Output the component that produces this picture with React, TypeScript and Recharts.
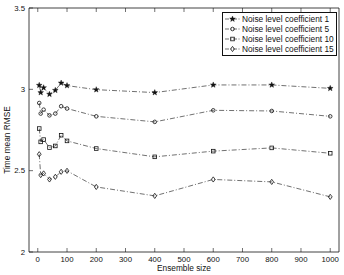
import { LineChart, Line, XAxis, YAxis, Legend, Label } from "recharts";

const ensembleSizes = [5, 10, 20, 40, 60, 80, 100, 200, 400, 600, 800, 1000];
const coef1 = [3.025, 2.98, 3.01, 2.97, 2.994, 3.039, 3.023, 2.998, 2.98, 3.027, 3.027, 3.006];
const coef5 = [2.916, 2.851, 2.875, 2.84, 2.851, 2.896, 2.882, 2.834, 2.8, 2.871, 2.867, 2.834];
const coef10 = [2.759, 2.677, 2.691, 2.642, 2.652, 2.718, 2.683, 2.636, 2.585, 2.62, 2.64, 2.607];
const coef15 = [2.601, 2.473, 2.483, 2.446, 2.462, 2.493, 2.499, 2.4, 2.345, 2.446, 2.431, 2.339];

const xTicks = [0, 100, 200, 300, 400, 500, 600, 700, 800, 900, 1000];
const yTicks = [2, 2.5, 3, 3.5];

const data = ensembleSizes.map((n, i) => ({
  n,
  c1: coef1[i],
  c5: coef5[i],
  c10: coef10[i],
  c15: coef15[i],
}));

const FONT = "'Liberation Sans', Arial, sans-serif";
const INK = "#111";
const DASH = "5 2 1 2";

type MarkerKind = "star" | "circle" | "square" | "diamond";

const series: { key: string; name: string; marker: MarkerKind }[] = [
  { key: "c1", name: "Noise level coefficient 1", marker: "star" },
  { key: "c5", name: "Noise level coefficient 5", marker: "circle" },
  { key: "c10", name: "Noise level coefficient 10", marker: "square" },
  { key: "c15", name: "Noise level coefficient 15", marker: "diamond" },
];

function starPath(cx: number, cy: number, r: number) {
  const pts: string[] = [];
  for (let i = 0; i < 10; i++) {
    const a = -Math.PI / 2 + (i * Math.PI) / 5;
    const rr = i % 2 === 0 ? r : r * 0.42;
    pts.push(`${cx + rr * Math.cos(a)},${cy + rr * Math.sin(a)}`);
  }
  return "M" + pts.join("L") + "Z";
}

function Marker({ kind, cx, cy }: { kind: MarkerKind; cx: number; cy: number }) {
  const common = { stroke: INK, strokeWidth: 0.8 };
  if (kind === "star") return <path d={starPath(cx, cy, 3)} fill={INK} stroke={INK} strokeWidth={0.4} />;
  if (kind === "circle") return <circle cx={cx} cy={cy} r={1.8} fill="none" {...common} />;
  if (kind === "square")
    return <rect x={cx - 1.8} y={cy - 1.8} width={3.6} height={3.6} fill="none" {...common} />;
  return (
    <path
      d={`M${cx},${cy - 2.6}L${cx + 1.9},${cy}L${cx},${cy + 2.6}L${cx - 1.9},${cy}Z`}
      fill="none"
      {...common}
    />
  );
}

const makeDot = (kind: MarkerKind) => (props: any) => {
  const { cx, cy, index } = props;
  if (cx == null || cy == null) return <g key={index} />;
  return <Marker key={index} kind={kind} cx={cx} cy={cy} />;
};

const BottomTick = ({ x, y, payload }: any) => (
  <g>
    <line x1={x} x2={x} y1={y - 3} y2={y - 7} stroke={INK} strokeWidth={0.6} />
    <text x={x} y={y + 7} textAnchor="middle" fontSize={7.8} fontFamily={FONT} fill={INK}>
      {payload.value}
    </text>
  </g>
);

const TopTick = ({ x, y }: any) => (
  <line x1={x} x2={x} y1={y} y2={y + 4} stroke={INK} strokeWidth={0.6} />
);

const LeftTick = ({ x, y, payload }: any) => (
  <g>
    <line x1={x + 4} x2={x + 8} y1={y} y2={y} stroke={INK} strokeWidth={0.6} />
    <text x={x} y={y + 2.8} textAnchor="end" fontSize={7.8} fontFamily={FONT} fill={INK}>
      {payload.value}
    </text>
  </g>
);

const RightTick = ({ x, y }: any) => (
  <line x1={x} x2={x - 4} y1={y} y2={y} stroke={INK} strokeWidth={0.6} />
);

function LegendBox() {
  return (
    <div
      style={{
        border: `1px solid ${INK}`,
        background: "#fff",
        padding: "1px 2px 1px 1px",
        fontFamily: FONT,
        fontSize: 8.3,
        color: INK,
        lineHeight: "10px",
      }}
    >
      {series.map((s) => (
        <div key={s.key} style={{ display: "flex", alignItems: "center", height: 10 }}>
          <svg width={17} height={10} style={{ flex: "none" }}>
            <line x1={1} x2={16} y1={5} y2={5} stroke={INK} strokeWidth={0.6} strokeDasharray="4 1.5 1 1.5" />
            <Marker kind={s.marker} cx={8.5} cy={5} />
          </svg>
          <span style={{ marginLeft: 1, whiteSpace: "nowrap" }}>{s.name}</span>
        </div>
      ))}
    </div>
  );
}

export default function App() {
  return (
    <div style={{ position: "fixed", left: 0, top: 0, width: 344, height: 275, background: "#fff" }}>
      <LineChart width={344} height={275} data={data} margin={{ top: 0, right: 0, bottom: 0, left: 0 }}>
        <XAxis
          xAxisId="b"
          dataKey="n"
          type="number"
          domain={[-30, 1030]}
          ticks={xTicks}
          interval={0}
          height={23}
          tickSize={0}
          tickMargin={3}
          tickLine={false}
          tick={<BottomTick />}
          axisLine={{ stroke: INK, strokeWidth: 0.8 }}
        >
          <Label
            content={({ viewBox }: any) => (
              <text
                x={viewBox.x + viewBox.width / 2}
                y={271}
                textAnchor="middle"
                fontSize={8.3}
                fontFamily={FONT}
                fill={INK}
              >
                Ensemble size
              </text>
            )}
          />
        </XAxis>
        <XAxis
          xAxisId="t"
          orientation="top"
          dataKey="n"
          type="number"
          domain={[-30, 1030]}
          ticks={xTicks}
          interval={0}
          height={8}
          tickSize={0}
          tickMargin={0}
          tickLine={false}
          tick={<TopTick />}
          axisLine={{ stroke: INK, strokeWidth: 0.8 }}
        />
        <YAxis
          yAxisId="l"
          type="number"
          domain={[2, 3.5]}
          ticks={yTicks}
          interval={0}
          width={29}
          tickSize={0}
          tickMargin={4}
          tickLine={false}
          tick={<LeftTick />}
          axisLine={{ stroke: INK, strokeWidth: 0.8 }}
        >
          <Label
            content={() => (
              <text
                x={10}
                y={140}
                transform="rotate(-90 10 140)"
                textAnchor="middle"
                fontSize={8.3}
                fontFamily={FONT}
                fill={INK}
              >
                Time mean RMSE
              </text>
            )}
          />
        </YAxis>
        <YAxis
          yAxisId="r"
          orientation="right"
          type="number"
          domain={[2, 3.5]}
          ticks={yTicks}
          interval={0}
          width={5}
          tickSize={0}
          tickMargin={0}
          tickLine={false}
          tick={<RightTick />}
          axisLine={{ stroke: INK, strokeWidth: 0.8 }}
        />
        <Legend
          layout="horizontal"
          verticalAlign="middle"
          align="center"
          wrapperStyle={{ position: "absolute", left: 222, top: 12, width: "auto", height: "auto", right: "auto", bottom: "auto" }}
          content={() => <LegendBox />}
        />
        {series.map((s) => (
          <Line
            key={s.key}
            xAxisId="b"
            yAxisId="l"
            dataKey={s.key}
            name={s.name}
            type="linear"
            stroke={INK}
            strokeWidth={0.6}
            strokeDasharray={DASH}
            dot={makeDot(s.marker)}
            activeDot={false}
            isAnimationActive={false}
          />
        ))}
      </LineChart>
    </div>
  );
}
